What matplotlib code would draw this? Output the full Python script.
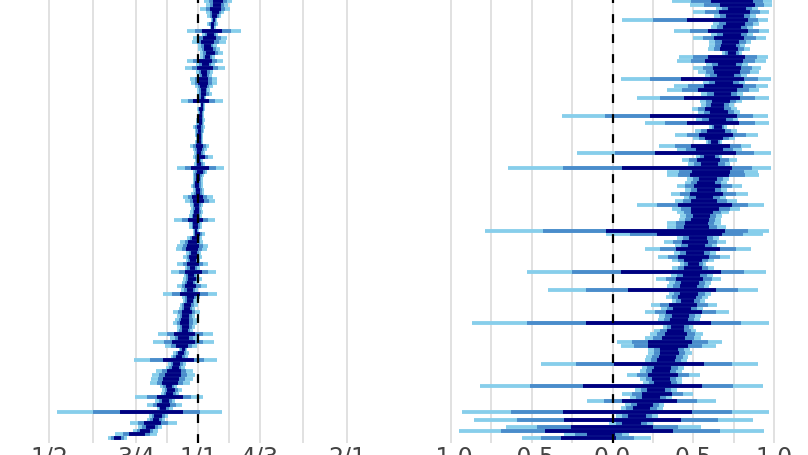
import numpy as np
import matplotlib
matplotlib.use("Agg")
import matplotlib.pyplot as plt
from matplotlib.ticker import FixedLocator, FixedFormatter

# Left panel: ratio estimates (median, outer interval low/high), bottom row first
left_med = [0.686, 0.753, 0.78, 0.80, 0.807, 0.822, 0.83, 0.834, 0.846, 0.85,
            0.86, 0.878, 0.875, 0.878, 0.874, 0.878, 0.882, 0.89, 0.894, 0.90,
            0.905, 0.92, 0.915, 0.925, 0.933, 0.933, 0.937, 0.933, 0.937, 0.94,
            0.945, 0.941, 0.941, 0.945, 0.95, 0.95, 0.95, 0.963, 0.963, 0.963,
            0.963, 0.963, 0.965, 0.97, 0.97, 0.977, 0.975, 0.977, 0.977, 0.977,
            0.98, 0.972, 0.977, 0.977, 0.985, 0.995, 0.99, 0.99, 0.99, 0.99,
            0.99, 0.995, 0.995, 0.995, 1.0, 0.995, 1.0, 1.0, 0.995, 0.995,
            1.0, 1.0, 1.009, 1.009, 1.005, 1.0, 1.009, 1.005, 1.005, 1.005,
            1.005, 1.005, 1.005, 1.005, 1.005, 1.01, 1.009, 1.012, 1.014, 1.014,
            1.02, 1.01, 1.02, 1.024, 1.024, 1.024, 1.024, 1.024, 1.03, 1.03,
            1.033, 1.035, 1.033, 1.045, 1.057, 1.048, 1.045, 1.043, 1.057, 1.06,
            1.062, 1.07, 1.07, 1.077, 1.08, 1.085, 1.087, 1.09, 1.098, 1.10]
left_lo = [0.658, 0.68, 0.74, 0.757, 0.729, 0.789, 0.795, 0.52, 0.826, 0.789,
           0.82, 0.746, 0.84, 0.846, 0.838, 0.80, 0.804, 0.807, 0.822, 0.86,
           0.87, 0.742, 0.88, 0.89, 0.915, 0.858, 0.811, 0.878, 0.83, 0.905,
           0.905, 0.89, 0.899, 0.905, 0.89, 0.915, 0.92, 0.933, 0.928, 0.85,
           0.925, 0.907, 0.93, 0.933, 0.935, 0.882, 0.94, 0.907, 0.945, 0.933,
           0.945, 0.903, 0.907, 0.92, 0.95, 0.977, 0.975, 0.96, 0.96, 0.894,
           0.96, 0.965, 0.97, 0.965, 0.941, 0.933, 0.97, 0.977, 0.97, 0.977,
           0.975, 0.975, 0.977, 0.907, 0.98, 0.986, 0.977, 0.98, 0.977, 0.962,
           0.985, 0.99, 0.985, 0.986, 0.977, 0.99, 0.99, 0.995, 1.0, 0.995,
           1.009, 0.924, 1.0, 0.995, 0.995, 0.986, 0.967, 0.963, 0.995, 0.99,
           0.94, 0.99, 0.95, 1.01, 1.009, 1.0, 1.0, 0.972, 0.977, 1.02,
           0.95, 1.055, 1.045, 1.06, 1.045, 1.04, 1.01, 1.04, 1.03, 1.04]
left_hi = [0.72, 0.826, 0.83, 0.846, 0.907, 0.858, 0.87, 1.118, 0.89, 0.93,
           0.90, 1.023, 0.915, 0.928, 0.907, 0.963, 0.977, 0.986, 0.977, 0.94,
           0.945, 1.093, 0.955, 0.96, 0.95, 0.995, 1.077, 1.0, 1.072, 0.975,
           0.985, 0.995, 0.995, 0.985, 1.009, 0.985, 1.0, 0.995, 1.009, 1.093,
           1.0, 1.043, 1.0, 1.02, 1.005, 1.087, 1.01, 1.048, 1.01, 1.02,
           1.015, 1.043, 1.048, 1.024, 1.02, 1.033, 1.005, 1.02, 1.02, 1.082,
           1.02, 1.025, 1.02, 1.025, 1.082, 1.072, 1.03, 1.028, 1.025, 1.024,
           1.025, 1.03, 1.043, 1.128, 1.035, 1.024, 1.072, 1.035, 1.043, 1.053,
           1.025, 1.024, 1.025, 1.03, 1.033, 1.03, 1.033, 1.03, 1.028, 1.033,
           1.033, 1.123, 1.04, 1.067, 1.055, 1.072, 1.093, 1.093, 1.065, 1.07,
           1.134, 1.08, 1.123, 1.08, 1.123, 1.108, 1.09, 1.14, 1.144, 1.10,
           1.222, 1.085, 1.095, 1.09, 1.115, 1.13, 1.16, 1.15, 1.17, 1.17]

# Right panel: difference estimates (median, outer interval low/high), bottom row first
right_med = [-0.14, -0.05, -0.03, 0.03, 0.12, 0.10, 0.15, 0.15, 0.18, 0.20,
             0.22, 0.24, 0.27, 0.27, 0.28, 0.31, 0.30, 0.31, 0.30, 0.31,
             0.33, 0.33, 0.34, 0.35, 0.35, 0.34, 0.36, 0.38, 0.39, 0.39,
             0.40, 0.35, 0.41, 0.42, 0.43, 0.43, 0.43, 0.46, 0.46, 0.47,
             0.45, 0.47, 0.48, 0.48, 0.49, 0.47, 0.50, 0.50, 0.50, 0.50,
             0.51, 0.53, 0.52, 0.51, 0.53, 0.50, 0.50, 0.52, 0.53, 0.54,
             0.55, 0.55, 0.57, 0.59, 0.56, 0.57, 0.57, 0.58, 0.58, 0.58,
             0.59, 0.58, 0.60, 0.57, 0.60, 0.59, 0.60, 0.61, 0.60, 0.63,
             0.63, 0.63, 0.64, 0.64, 0.65, 0.65, 0.65, 0.63, 0.66, 0.63,
             0.65, 0.67, 0.66, 0.68, 0.67, 0.70, 0.69, 0.69, 0.70, 0.70,
             0.71, 0.71, 0.70, 0.72, 0.74, 0.72, 0.72, 0.73, 0.72, 0.74,
             0.74, 0.74, 0.76, 0.75, 0.76, 0.77, 0.77, 0.80, 0.78, 0.78]
right_lo = [-0.56, -0.30, -0.95, -0.66, -0.02, -0.86, 0.02, -0.93, 0.05, 0.08,
            -0.16, 0.11, 0.06, 0.14, -0.82, 0.19, 0.17, 0.09, 0.17, 0.18,
            -0.44, 0.20, 0.21, 0.22, 0.22, 0.05, 0.03, 0.20, 0.23, 0.26,
            0.31, -0.87, 0.28, 0.29, 0.20, 0.30, 0.24, 0.37, 0.33, 0.35,
            -0.40, 0.34, 0.35, 0.27, 0.36, -0.53, 0.37, 0.42, 0.37, 0.28,
            0.38, 0.20, 0.39, 0.32, 0.40, -0.04, -0.79, 0.34, 0.34, 0.41,
            0.42, 0.40, 0.37, 0.15, 0.39, 0.44, 0.36, 0.45, 0.40, 0.45,
            0.46, 0.34, 0.34, -0.65, 0.47, 0.43, 0.52, -0.22, 0.40, 0.29,
            0.58, 0.50, 0.39, 0.51, 0.60, 0.20, 0.52, -0.31, 0.53, 0.49,
            0.55, 0.54, 0.15, 0.55, 0.34, 0.38, 0.56, 0.05, 0.57, 0.53,
            0.50, 0.58, 0.40, 0.41, 0.68, 0.59, 0.60, 0.60, 0.50, 0.61,
            0.38, 0.61, 0.62, 0.06, 0.63, 0.50, 0.64, 0.48, 0.37, 0.60]
right_hi = [0.24, 0.10, 0.94, 0.55, 0.25, 0.87, 0.28, 0.97, 0.31, 0.32,
            0.64, 0.37, 0.50, 0.40, 0.93, 0.43, 0.43, 0.54, 0.43, 0.44,
            0.90, 0.46, 0.47, 0.49, 0.48, 0.64, 0.68, 0.55, 0.56, 0.52,
            0.50, 0.97, 0.54, 0.55, 0.72, 0.56, 0.65, 0.57, 0.59, 0.61,
            0.90, 0.60, 0.61, 0.67, 0.62, 0.95, 0.63, 0.58, 0.63, 0.73,
            0.64, 0.86, 0.65, 0.70, 0.66, 0.93, 0.97, 0.70, 0.67, 0.67,
            0.68, 0.72, 0.79, 0.94, 0.77, 0.70, 0.84, 0.71, 0.80, 0.71,
            0.72, 0.91, 0.90, 0.98, 0.73, 0.77, 0.68, 0.98, 0.80, 0.86,
            0.68, 0.76, 0.90, 0.77, 0.71, 0.97, 0.78, 0.96, 0.79, 0.77,
            0.75, 0.80, 0.97, 0.81, 0.91, 0.96, 0.82, 0.98, 0.83, 0.91,
            0.92, 0.84, 0.95, 0.96, 0.80, 0.85, 0.82, 0.86, 0.95, 0.87,
            0.97, 0.87, 0.91, 0.96, 0.89, 0.97, 0.90, 0.99, 0.99, 0.95]

left_ticks = [0.5, 0.75, 1.0, 4 / 3, 2.0]
left_labels = ["1/2", "3/4", "1/1", "4/3", "2/1"]
right_ticks = [-1.0, -0.5, 0.0, 0.5, 1.0]
right_labels = ["-1.0", "-0.5", "0.0", "0.5", "1.0"]

light = "#87ceeb"
mid = "#4a8ccb"
dark = "#000080"
lw = 2.75

rows = np.arange(len(left_med))

fig = plt.figure(figsize=(8.08, 4.55), dpi=100)
bottom = 12 / 455
height = 1 - bottom
ax_l = fig.add_axes([0.0, bottom, 400 / 808, height])
ax_r = fig.add_axes([418.7 / 808, bottom, 387.6 / 808, height])

# left: log-scale ratios, inner intervals shrunk toward the median in log space
lm = np.array(left_med)
llo = np.array(left_lo)
lhi = np.array(left_hi)
ax_l.set_xscale("log", base=2)
for k, c in [(1.0, light), (0.65, mid), (0.38, dark)]:
    ax_l.hlines(rows, lm * (llo / lm) ** k, lm * (lhi / lm) ** k, colors=c, lw=lw)
ax_l.axvline(1.0, color="black", lw=1.6, ls=(0, (4, 5)), zorder=5)
ax_l.set_xlim(2 ** (-198 / 149), 2 ** (202 / 149))
ax_l.xaxis.set_major_locator(FixedLocator(left_ticks))
ax_l.xaxis.set_major_formatter(FixedFormatter(left_labels))
minor_l = [np.sqrt(a * b) for a, b in zip(left_ticks[:-1], left_ticks[1:])]
ax_l.xaxis.set_minor_locator(FixedLocator(minor_l))
ax_l.xaxis.set_minor_formatter(FixedFormatter([""] * len(minor_l)))

# right: linear differences
rm = np.array(right_med)
rlo = np.array(right_lo)
rhi = np.array(right_hi)
for k, c in [(1.0, light), (0.72, mid), (0.42, dark)]:
    ax_r.hlines(rows, rm - k * (rm - rlo), rm + k * (rhi - rm), colors=c, lw=lw)
ax_r.axvline(0.0, color="black", lw=1.6, ls=(0, (4, 5)), zorder=5)
ax_r.set_xlim(-1.2, 1.2)
ax_r.xaxis.set_major_locator(FixedLocator(right_ticks))
ax_r.xaxis.set_major_formatter(FixedFormatter(right_labels))
ax_r.xaxis.set_minor_locator(FixedLocator([-0.75, -0.25, 0.25, 0.75]))

spacing = 3.7
for ax in (ax_l, ax_r):
    ax.set_ylim(-5 / spacing, -5 / spacing + 443 / spacing)
    ax.set_yticks([])
    for s in ax.spines.values():
        s.set_visible(False)
    ax.set_axisbelow(True)
    ax.grid(True, which="both", axis="x", color="#dcdcdc", lw=1.2)
    ax.tick_params(axis="x", which="both", length=0, pad=2,
                   labelsize=17, labelcolor="#444444")

fig.savefig("out.png", dpi=100)
